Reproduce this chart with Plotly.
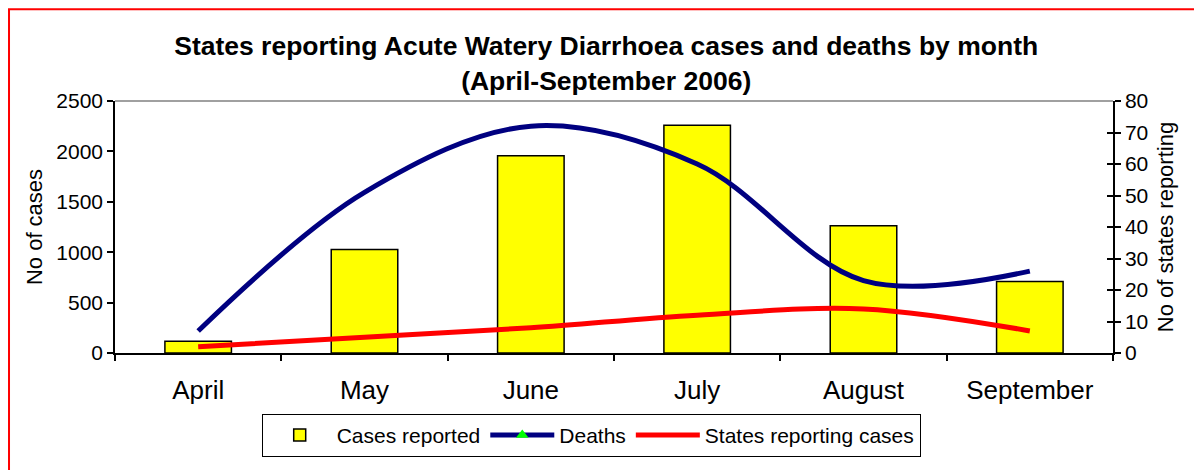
import plotly.graph_objects as go

months = ["April", "May", "June", "July", "August", "September"]
cases = [116, 1026, 1956, 2260, 1263, 709]
deaths = [7, 51, 72, 60, 23, 26]
states = [2, 5, 8, 12, 14, 7]

FONT = "Liberation Sans, Arial, sans-serif"

fig = go.Figure()
fig.add_trace(go.Bar(
    x=months, y=cases, name="Cases reported",
    marker=dict(color="#FFFF00", line=dict(color="black", width=1.5)),
    width=0.4, yaxis="y"))
fig.add_trace(go.Scatter(
    x=months, y=deaths, name="Deaths", mode="lines",
    line=dict(color="#000080", width=5, shape="spline", smoothing=1),
    yaxis="y2", showlegend=False))
fig.add_trace(go.Scatter(
    x=[None], y=[None], name="Deaths", mode="lines+markers",
    line=dict(color="#000080", width=5),
    marker=dict(symbol="triangle-up", color="#00FF00", size=11),
    yaxis="y2"))
fig.add_trace(go.Scatter(
    x=months, y=states, name="States reporting cases", mode="lines",
    line=dict(color="#FF0000", width=5, shape="spline", smoothing=1),
    yaxis="y2"))
# invisible helper trace so the inner tick marks of the right axis render
fig.add_trace(go.Scatter(
    x=[months[0]], y=[None], mode="lines", yaxis="y3",
    showlegend=False, hoverinfo="skip"))

fig.update_layout(
    width=1194, height=462,
    margin=dict(l=107, r=89, t=93, b=117),
    paper_bgcolor="white", plot_bgcolor="white",
    font=dict(family=FONT, color="black", size=20),
    title=dict(
        text="<b>States reporting Acute Watery Diarrhoea cases and deaths by month<br>(April-September 2006)</b>",
        x=0.501, xanchor="center", xref="container",
        y=0.898, yanchor="top", yref="container",
        font=dict(family=FONT, size=26.5, color="black")),
    xaxis=dict(
        type="category", showgrid=False, tickson="boundaries",
        ticks="outside", ticklen=6, tickcolor="black", tickwidth=1.5,
        showline=True, linecolor="black", linewidth=1.5,
        tickfont=dict(size=26), ticklabelstandoff=13, automargin=False),
    yaxis=dict(
        range=[0, 2500], dtick=500, showgrid=False, zeroline=False,
        ticks="outside", ticklen=6, tickcolor="black", tickwidth=1.5,
        showline=True, linecolor="black", linewidth=1.5,
        tickfont=dict(size=21), automargin=False,
        title=dict(text="No of cases", font=dict(size=22), standoff=8)),
    yaxis2=dict(
        range=[0, 80], dtick=10, overlaying="y", side="right",
        showgrid=False, zeroline=False,
        ticks="outside", ticklen=6, tickcolor="black", tickwidth=1.5,
        showline=True, linecolor="black", linewidth=1.5,
        tickfont=dict(size=21), automargin=False,
        title=dict(text="No of states reporting", font=dict(size=22), standoff=10)),
    yaxis3=dict(
        range=[0, 80], dtick=10, overlaying="y", side="right",
        showgrid=False, zeroline=False, showline=False,
        ticks="inside", ticklen=6, tickcolor="black", tickwidth=1.5,
        showticklabels=False, automargin=False),
    legend=dict(
        orientation="h", x=0.147, xanchor="left", y=-0.3266, yanchor="middle",
        bordercolor="black", borderwidth=1, font=dict(size=21),
        traceorder="normal", bgcolor="white", itemwidth=64),
    shapes=[
        dict(type="line", xref="paper", yref="paper", x0=0, x1=1, y0=1, y1=1,
             line=dict(color="#808080", width=1.5), layer="below"),
        dict(type="rect", xref="paper", yref="paper",
             x0=-0.1062, x1=1.12, y0=-0.55, y1=1.364,
             line=dict(color="#FF0000", width=2), layer="below"),
    ],
)

fig.write_html("out.html")
